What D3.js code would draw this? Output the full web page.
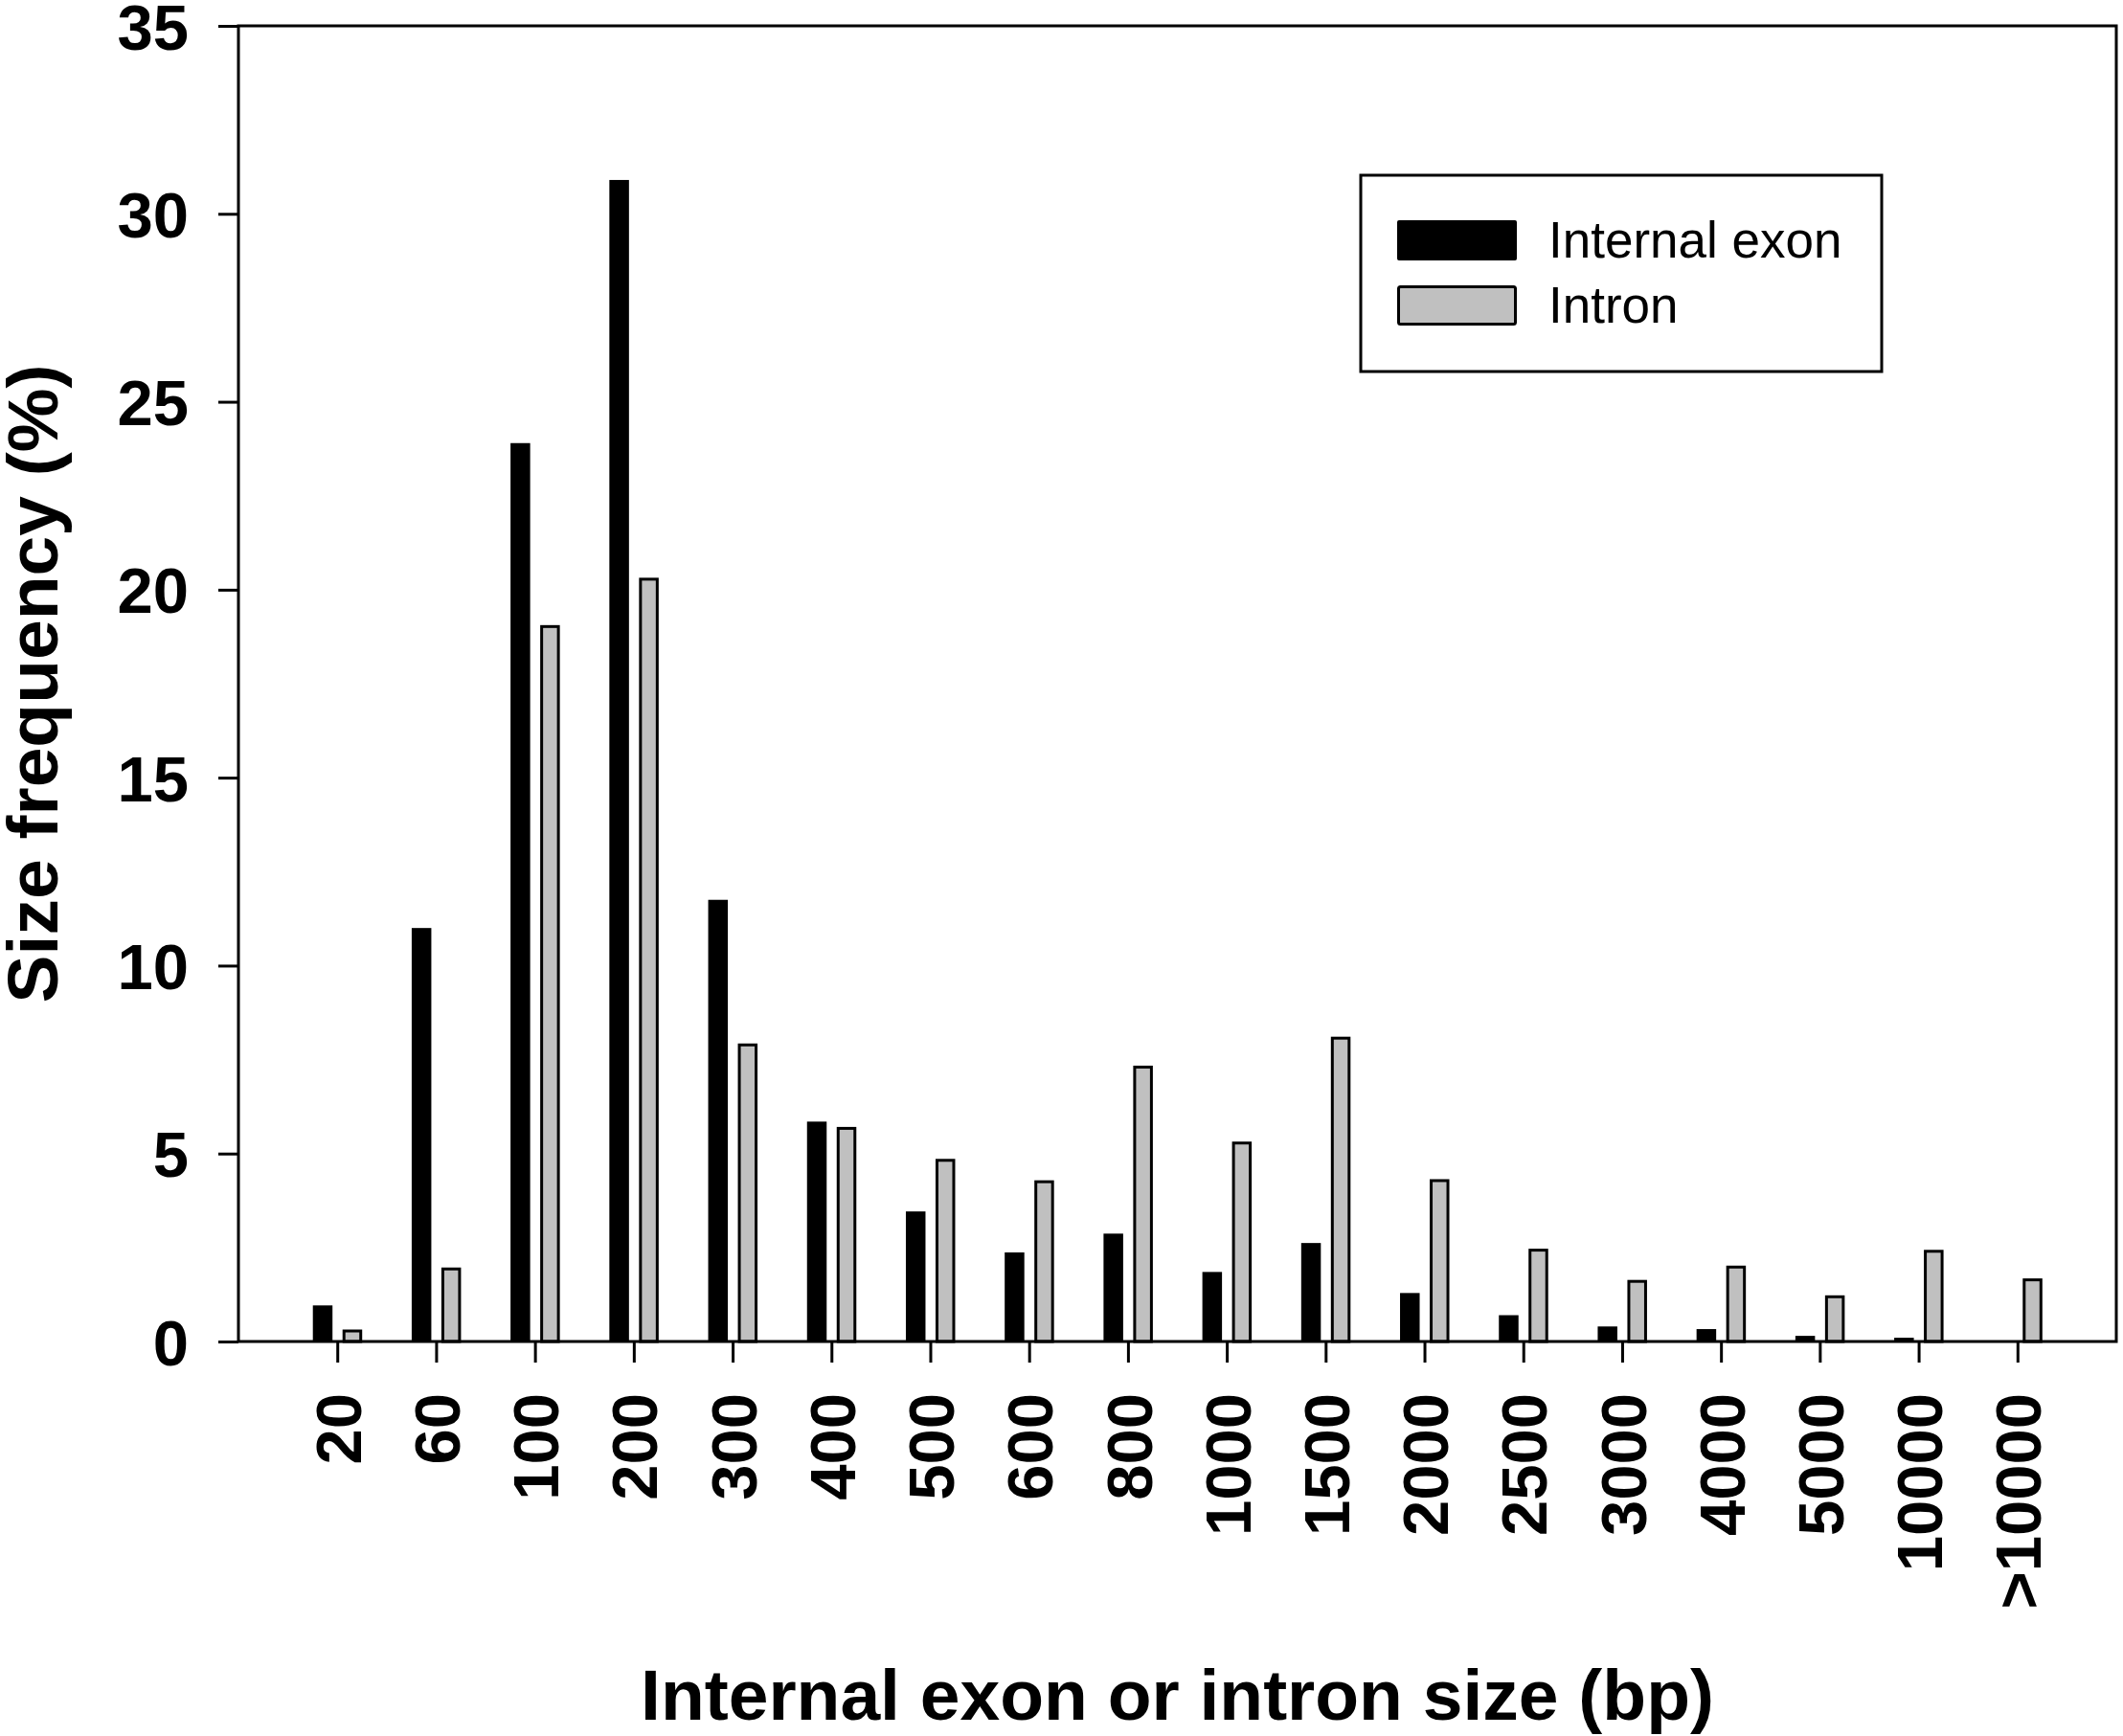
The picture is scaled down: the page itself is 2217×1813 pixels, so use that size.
<!DOCTYPE html>
<html>
<head>
<meta charset="utf-8">
<script src="https://cdn.jsdelivr.net/npm/d3@7/dist/d3.min.js"></script>
<style>
  html, body { margin: 0; padding: 0; background: #fff; }
  svg { display: block; }
</style>
</head>
<body>
<svg id="chart" width="2217" height="1813"></svg>
<script>
// ---- data ----
const categories = ["20","60","100","200","300","400","500","600","800","1000","1500","2000","2500","3000","4000","5000","10000",">10000"];
const exonValues   = [0.96, 11.0, 23.9, 30.9, 11.75, 5.85, 3.46, 2.37, 2.87, 1.85, 2.62, 1.29, 0.70, 0.40, 0.33, 0.15, 0.10, 0];
const intronValues = [0.28, 1.93, 19.02, 20.28, 7.89, 5.67, 4.82, 4.25, 7.30, 5.28, 8.07, 4.28, 2.43, 1.60, 1.98, 1.19, 2.40, 1.64];
const yTicks = [0, 5, 10, 15, 20, 25, 30, 35];
const seriesNames = ["Internal exon", "Intron"];
const seriesColors = ["#000000", "#c0c0c0"];

// ---- layout ----
const W = 2217, H = 1813;
const plot = { left: 249, right: 2210, top: 27, bottom: 1401 };
const FONT = "'Liberation Sans', Arial, Helvetica, sans-serif";

const svg = d3.select("#chart");
svg.append("rect").attr("width", W).attr("height", H).attr("fill", "#fff");

const x = d3.scaleLinear().domain([0, categories.length + 1]).range([plot.left, plot.right]);
const y = d3.scaleLinear().domain([0, 35]).range([plot.bottom, plot.top]);

// bars
const g = svg.append("g");
g.selectAll("rect.exon")
  .data(exonValues.map((v, i) => ({ v, i })).filter(d => d.v > 0))
  .join("rect")
  .attr("class", "exon")
  .attr("x", d => x(d.i + 1) - 25.5)
  .attr("width", 20.5)
  .attr("y", d => y(d.v))
  .attr("height", d => y(0) - y(d.v))
  .attr("fill", seriesColors[0]);

g.selectAll("rect.intron")
  .data(intronValues.map((v, i) => ({ v, i })).filter(d => d.v > 0))
  .join("rect")
  .attr("class", "intron")
  .attr("x", d => x(d.i + 1) + 7)
  .attr("width", 17.5)
  .attr("y", d => y(d.v))
  .attr("height", d => y(0) - y(d.v))
  .attr("fill", seriesColors[1])
  .attr("stroke", "#000")
  .attr("stroke-width", 3);

// frame
svg.append("rect")
  .attr("x", plot.left).attr("y", plot.top)
  .attr("width", plot.right - plot.left).attr("height", plot.bottom - plot.top)
  .attr("fill", "none").attr("stroke", "#000").attr("stroke-width", 3);

// y axis
const yAxis = svg.append("g")
  .attr("transform", `translate(${plot.left},0)`)
  .call(d3.axisLeft(y).tickValues(yTicks).tickSize(21).tickPadding(31).tickSizeOuter(0));
yAxis.select(".domain").remove();
yAxis.selectAll(".tick line").attr("stroke", "#000").attr("stroke-width", 3);
yAxis.selectAll(".tick text")
  .attr("font-family", FONT).attr("font-weight", "bold").attr("font-size", 67)
  .attr("fill", "#000").attr("dy", "0.36em");

// x axis
const xAxis = svg.append("g")
  .attr("transform", `translate(0,${plot.bottom})`)
  .call(d3.axisBottom(x)
    .tickValues(d3.range(1, categories.length + 1))
    .tickFormat(d => categories[d - 1])
    .tickSize(22).tickSizeOuter(0));
xAxis.select(".domain").remove();
xAxis.selectAll(".tick line").attr("stroke", "#000").attr("stroke-width", 3);
xAxis.selectAll(".tick text")
  .attr("font-family", FONT).attr("font-weight", "bold").attr("font-size", 67)
  .attr("fill", "#000")
  .attr("transform", "rotate(-90)")
  .attr("text-anchor", "end")
  .attr("x", -54)
  .attr("y", 0)
  .attr("dy", "0.36em");

// axis titles
svg.append("text")
  .attr("transform", `translate(60,${(plot.top + plot.bottom) / 2}) rotate(-90)`)
  .attr("text-anchor", "middle")
  .attr("font-family", FONT).attr("font-weight", "bold").attr("font-size", 75)
  .text("Size frequency (%)");

svg.append("text")
  .attr("x", (plot.left + plot.right) / 2)
  .attr("y", 1796)
  .attr("text-anchor", "middle")
  .attr("font-family", FONT).attr("font-weight", "bold").attr("font-size", 75)
  .text("Internal exon or intron size (bp)");

// legend
const lg = svg.append("g");
lg.append("rect")
  .attr("x", 1421).attr("y", 183).attr("width", 544).attr("height", 205)
  .attr("fill", "#fff").attr("stroke", "#000").attr("stroke-width", 3);
const legendRows = seriesNames.map((name, i) => ({ name, color: seriesColors[i], i }));
lg.selectAll("rect.sw")
  .data(legendRows)
  .join("rect")
  .attr("class", "sw")
  .attr("x", d => d.i === 0 ? 1459 : 1460.5)
  .attr("y", d => d.i === 0 ? 230 : 299.5)
  .attr("width", d => d.i === 0 ? 125 : 122)
  .attr("height", d => d.i === 0 ? 42 : 39)
  .attr("rx", 2)
  .attr("fill", d => d.color)
  .attr("stroke", d => d.i === 0 ? "none" : "#000")
  .attr("stroke-width", 3);
lg.selectAll("text")
  .data(legendRows)
  .join("text")
  .attr("x", 1617)
  .attr("y", d => d.i === 0 ? 269 : 337)
  .attr("font-family", FONT).attr("font-size", 53).attr("fill", "#000")
  .text(d => d.name);
</script>
</body>
</html>
